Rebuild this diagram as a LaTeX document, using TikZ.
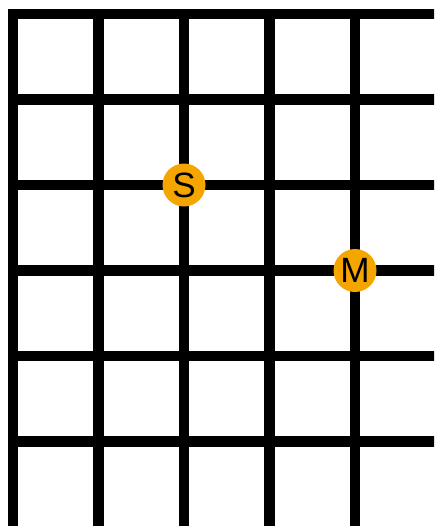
\documentclass[tikz,border=0pt]{standalone}
\usepackage{fontspec}
\setmainfont{Liberation Sans}
\usepackage{tikz}
\definecolor{marker}{RGB}{245,165,0}

\begin{document}
\begin{tikzpicture}[
    x=0.03cm, y=-0.03cm,
    gridline/.style={line width=0.315cm, line cap=rect, black},
    stop/.style={circle, fill=marker, minimum size=1.29cm, inner sep=0pt, font=\fontsize{30}{30}\selectfont}
]
\useasboundingbox (0,0) rectangle (434,526);
\clip (0,0) rectangle (434,526);
\foreach \gx in {13,98.5,184,269.5,355}
    \draw[gridline] (\gx,14) -- (\gx,540);
\foreach \gy in {14,99.5,185,270.5,356,441.5}
    \draw[gridline] (13,\gy) -- (450,\gy);

\node[stop] (s) at (184,185) {S};
\node[stop] (m) at (355,270.5) {M};
\end{tikzpicture}
\end{document}
